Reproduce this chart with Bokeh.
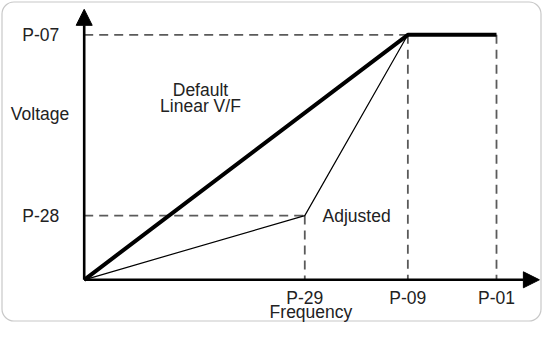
from bokeh.plotting import figure
from bokeh.models import Arrow, NormalHead, Label, Range1d
from bokeh.embed import file_html
from bokeh.resources import INLINE

# ---- data (percent of P-01 for frequency, percent of P-07 for voltage) ----
freq_names = ["P-29", "P-09", "P-01"]
freq_vals = [53.5, 78.5, 100.0]
volt_names = ["P-07", "P-28"]
volt_vals = [100.0, 26.2]

default_x = [0.0, 78.5, 100.0]
default_y = [0.0, 100.0, 100.0]
adjusted_x = [0.0, 53.5, 78.5]
adjusted_y = [0.0, 26.2, 100.0]

axis_end = 110.4

W, H = 542, 322
XPX, YPX = 4.123, 2.45  # pixels per unit
x0 = -83.7 / XPX
y0 = -42.7 / YPX
p = figure(width=W, height=H, output_backend="svg", toolbar_location=None,
           x_range=Range1d(x0, x0 + W / XPX), y_range=Range1d(y0, y0 + H / YPX),
           min_border=0, background_fill_color="white", border_fill_color="white")
p.outline_line_color = None
p.xaxis.visible = False
p.yaxis.visible = False
p.grid.visible = False

# rounded frame
p.quad(left=[x0 + 1.5 / XPX], right=[x0 + (W - 1.5) / XPX],
       bottom=[y0 + 1.5 / YPX], top=[y0 + (H - 1.5) / YPX],
       fill_color=None, line_color="#c8c8c8", line_width=1.2, border_radius=12)

DASH = "9 6"
DC = "#5a5a5a"
# dashed guides
p.segment(x0=[0, 0], y0=[volt_vals[0], volt_vals[1]],
          x1=[freq_vals[1], freq_vals[0]], y1=[volt_vals[0], volt_vals[1]],
          line_color=DC, line_width=1.8, line_dash=DASH)
p.segment(x0=freq_vals, y0=[volt_vals[1], volt_vals[0], volt_vals[0]],
          x1=freq_vals, y1=[0, 0, 0],
          line_color=DC, line_width=1.8, line_dash=DASH)

# curves
p.line(adjusted_x, adjusted_y, line_color="black", line_width=1.2)
p.line(default_x, default_y, line_color="black", line_width=4)

# axes with arrows
p.add_layout(Arrow(end=NormalHead(size=16, fill_color="black", line_color="black"),
                   x_start=0, y_start=0, x_end=0, y_end=axis_end,
                   line_color="black", line_width=2.6))
p.add_layout(Arrow(end=NormalHead(size=16, fill_color="black", line_color="black"),
                   x_start=0, y_start=0, x_end=axis_end, y_end=0,
                   line_color="black", line_width=2.6))

FONT = "Liberation Sans"
FS = "17.5px"
TC = "#222222"

def lab(x, y, t, align="center", xo=0, yo=0):
    p.add_layout(Label(x=x, y=y, text=t, text_font=FONT, text_font_size=FS,
                       text_color=TC, text_align=align, text_baseline="middle",
                       x_offset=xo, y_offset=yo))

for n, v in zip(volt_names, volt_vals):
    lab(0, v, n, align="right", xo=-25, yo=-0.5)
for n, v in zip(freq_names, freq_vals):
    lab(v, 0, n, align="center", yo=-18)

lab(0, 67.5, "Voltage", align="right", xo=-15)
lab(28.2, 77.3, "Default")
lab(28.2, 70.8, "Linear V/F")
lab(57.8, volt_vals[1], "Adjusted", align="left")
lab(55.0, 0, "Frequency", yo=-32)

open("out.html", "w").write(file_html(p, INLINE))
